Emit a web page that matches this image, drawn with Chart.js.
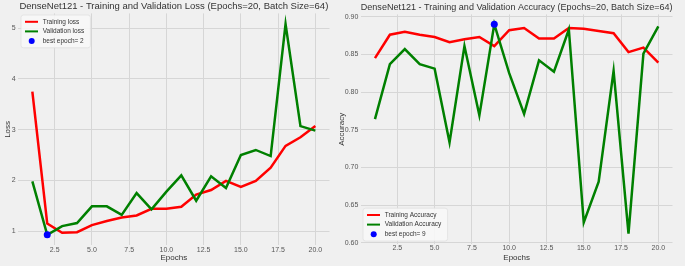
<!DOCTYPE html>
<html>
<head>
<meta charset="utf-8">
<script src="https://cdn.jsdelivr.net/npm/chart.js@4/dist/chart.umd.min.js"></script>
<style>
  html, body { margin: 0; padding: 0; background: #f0f0f0; }
  .row { position: relative; width: 685px; height: 266px; overflow: hidden; }
  #lossChart { position: absolute; left: 0; top: 0; }
  #accChart { position: absolute; left: 336px; top: 0; }
</style>
</head>
<body>
<div class="row">
  <canvas id="lossChart" width="336" height="266"></canvas>
  <canvas id="accChart" width="349" height="266"></canvas>
</div>
<script>
  "use strict";

  // Данные
  const epochs = [1, 2, 3, 4, 5, 6, 7, 8, 9, 10, 11, 12, 13, 14, 15, 16, 17, 18, 19, 20];
  const trainLoss = [3.75, 1.15, 0.97, 0.98, 1.12, 1.2, 1.27, 1.31, 1.44, 1.44, 1.48, 1.72, 1.81, 1.99, 1.87, 1.99, 2.25, 2.68, 2.85, 3.07];
  const valLoss = [1.98, 0.93, 1.1, 1.16, 1.49, 1.49, 1.32, 1.75, 1.43, 1.78, 2.1, 1.6, 2.08, 1.85, 2.5, 2.6, 2.48, 5.08, 3.07, 2.98];
  const trainAcc = [0.845, 0.876, 0.880, 0.876, 0.873, 0.866, 0.870, 0.873, 0.861, 0.882, 0.885, 0.871, 0.871, 0.885, 0.884, 0.881, 0.878, 0.853, 0.859, 0.839];
  const valAcc = [0.764, 0.837, 0.857, 0.837, 0.831, 0.733, 0.861, 0.769, 0.890, 0.825, 0.771, 0.842, 0.827, 0.883, 0.627, 0.681, 0.828, 0.612, 0.851, 0.887];
  const bestLossEpoch = 2;
  const bestAccEpoch = 9;

  const epochTicks = [2.5, 5, 7.5, 10, 12.5, 15, 17.5, 20];
  const lossTicks = [1, 2, 3, 4, 5];
  const accTicks = [0.6, 0.65, 0.7, 0.75, 0.8, 0.85, 0.9];

  const FONT = "'Liberation Sans', Arial, sans-serif";
  const colors = {
    train: "#ff0000",
    val: "#008000",
    best: "#0000ff",
    grid: "#d6d6d6",
    tick: "#555555",
    title: "#333333",
  };

  Chart.defaults.font.family = FONT;
  Chart.defaults.animation = false;

  function pairs(ys) {
    return epochs.map((e, i) => ({ x: e, y: ys[i] }));
  }

  /** Легенда внутри области графика, как в matplotlib */
  const insideLegend = {
    id: "insideLegend",
    afterDraw(chart, args, opts) {
      const ctx = chart.ctx;
      const area = chart.chartArea;
      const rowH = 9.6;
      const items = chart.data.datasets;
      ctx.save();
      ctx.font = "6.5px " + FONT;
      let textW = 0;
      items.forEach((d) => {
        textW = Math.max(textW, ctx.measureText(d.label).width);
      });
      const w = 22 + textW + 6;
      const h = items.length * rowH + 4;
      const x = area.left + opts.dx;
      const y = opts.corner === "top" ? area.top + opts.dy : area.bottom - opts.dy - h;

      ctx.beginPath();
      ctx.roundRect(x, y, w, h, 2.5);
      ctx.fillStyle = "rgba(247,247,247,0.9)";
      ctx.fill();
      ctx.strokeStyle = "#e0e0e0";
      ctx.lineWidth = 0.8;
      ctx.stroke();

      items.forEach((d, i) => {
        const cy = y + 2 + rowH * (i + 0.5);
        if (d.showLine === false) {
          ctx.beginPath();
          ctx.arc(x + 10.7, cy, 3, 0, Math.PI * 2);
          ctx.fillStyle = d.pointBackgroundColor;
          ctx.fill();
        } else {
          ctx.beginPath();
          ctx.moveTo(x + 4, cy);
          ctx.lineTo(x + 17, cy);
          ctx.strokeStyle = d.borderColor;
          ctx.lineWidth = 2;
          ctx.stroke();
        }
        ctx.fillStyle = "#333333";
        ctx.textBaseline = "middle";
        ctx.textAlign = "left";
        ctx.fillText(d.label, x + 21.7, cy);
      });
      ctx.restore();
    },
  };

  function makeChart(canvas, cfg) {
    return new Chart(canvas, {
      type: "line",
      data: {
        datasets: [
          {
            label: cfg.trainLabel,
            data: pairs(cfg.train),
            borderColor: colors.train,
            backgroundColor: colors.train,
            borderWidth: 2.5,
            pointRadius: 0,
            tension: 0,
            order: 2,
          },
          {
            label: cfg.valLabel,
            data: pairs(cfg.val),
            borderColor: colors.val,
            backgroundColor: colors.val,
            borderWidth: 2.5,
            pointRadius: 0,
            tension: 0,
            order: 1,
          },
          {
            label: "best epoch= " + cfg.bestEpoch,
            data: [{ x: cfg.bestEpoch, y: cfg.val[cfg.bestEpoch - 1] }],
            showLine: false,
            pointRadius: 3.5,
            pointBackgroundColor: colors.best,
            pointBorderWidth: 0,
            borderColor: colors.best,
            order: 0,
          },
        ],
      },
      options: {
        responsive: false,
        devicePixelRatio: 1,
        events: [],
        layout: { padding: { left: 0, right: cfg.padRight, top: 0, bottom: 0 } },
        plugins: {
          legend: { display: false },
          tooltip: { enabled: false },
          title: {
            display: true,
            text: cfg.title,
            fullSize: false,
            color: colors.title,
            font: { size: 9.5, weight: "normal", family: FONT, lineHeight: 1.2 },
            padding: cfg.titlePad,
          },
          insideLegend: cfg.legend,
        },
        scales: {
          x: {
            type: "linear",
            min: 0.05,
            max: 20.95,
            border: { display: false },
            grid: { color: colors.grid, lineWidth: 1, drawTicks: false },
            afterBuildTicks(scale) {
              scale.ticks = epochTicks.map((v) => ({ value: v }));
            },
            afterFit(scale) {
              scale.height = cfg.xHeight;
            },
            ticks: {
              color: colors.tick,
              font: { size: 7 },
              padding: 0,
              autoSkip: false,
              maxRotation: 0,
              callback(v) {
                return Number(v).toFixed(1);
              },
            },
            title: {
              display: true,
              text: "Epochs",
              color: colors.title,
              font: { size: 8, family: FONT },
              padding: { top: 0, bottom: 3 },
            },
          },
          y: {
            min: cfg.yMin,
            max: cfg.yMax,
            border: { display: false },
            grid: { color: colors.grid, lineWidth: 1, drawTicks: false },
            afterBuildTicks(scale) {
              scale.ticks = cfg.yTicks.map((v) => ({ value: v }));
            },
            afterFit(scale) {
              scale.width = cfg.yWidth;
            },
            ticks: {
              color: colors.tick,
              font: { size: 7 },
              padding: 2.5,
              autoSkip: false,
              callback(v) {
                return cfg.yFmt(v);
              },
            },
            title: {
              display: true,
              text: cfg.yTitle,
              color: colors.title,
              font: { size: 8, family: FONT },
              padding: { top: cfg.yTitlePad, bottom: 0 },
            },
          },
        },
      },
      plugins: [insideLegend],
    });
  }

  makeChart(document.getElementById("lossChart"), {
    title: "DenseNet121 - Training and Validation Loss (Epochs=20, Batch Size=64)",
    trainLabel: "Training loss",
    valLabel: "Validation loss",
    train: trainLoss,
    val: valLoss,
    bestEpoch: bestLossEpoch,
    yMin: 0.72,
    yMax: 5.29,
    yTicks: lossTicks,
    yFmt: (v) => String(Math.round(v)),
    yTitle: "Loss",
    yTitlePad: 3,
    yWidth: 18.2,
    xHeight: 20.6,
    padRight: 6.5,
    titlePad: { top: 1, bottom: 1 },
    legend: { corner: "top", dx: 2.8, dy: 1.6 },
  });

  makeChart(document.getElementById("accChart"), {
    title: "DenseNet121 - Training and Validation Accuracy (Epochs=20, Batch Size=64)",
    trainLabel: "Training Accuracy",
    valLabel: "Validation Accuracy",
    train: trainAcc,
    val: valAcc,
    bestEpoch: bestAccEpoch,
    yMin: 0.598,
    yMax: 0.903,
    yTicks: accTicks,
    yFmt: (v) => Number(v).toFixed(2),
    yTitle: "Accuracy",
    yTitlePad: 1,
    yWidth: 24.8,
    xHeight: 21.8,
    padRight: 12.5,
    titlePad: { top: 1.5, bottom: 1.5 },
    legend: { corner: "bottom", dx: 2.2, dy: 3.2 },
  });
</script>
</body>
</html>
